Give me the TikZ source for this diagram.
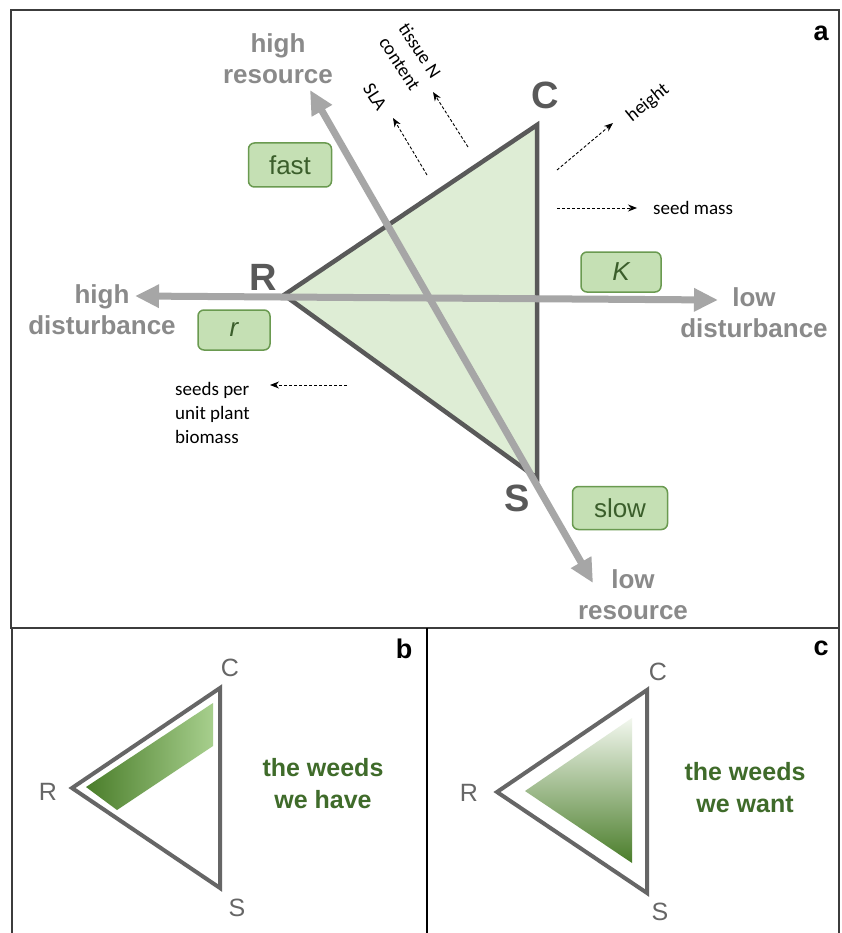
\documentclass[tikz,border=0pt]{standalone}
\usepackage{fontspec}
\setmainfont{Liberation Sans}
\newfontfamily\calib{Carlito}
\usetikzlibrary{arrows.meta}
\definecolor{framegray}{HTML}{3C3C3C}
\definecolor{trigray}{HTML}{595959}
\definecolor{trifill}{HTML}{DEEDD5}
\definecolor{axisgray}{HTML}{A6A6A6}
\definecolor{labgray}{HTML}{8A8A8A}
\definecolor{boxfill}{HTML}{C5E0B4}
\definecolor{boxline}{HTML}{6A9A50}
\definecolor{boxtext}{HTML}{3B5E2B}
\definecolor{weedgreen}{HTML}{3F6B2A}
\definecolor{smallgray}{HTML}{666666}
\definecolor{darkg}{HTML}{4A7D2A}
\definecolor{midg}{HTML}{A7CF8D}
\definecolor{lightg}{HTML}{F2F7EE}
\begin{document}
\begin{tikzpicture}[x=1pt,y=-1pt,
  axislab/.style={font=\fontsize{26}{31}\selectfont\bfseries, text=labgray, align=center, inner sep=0pt},
  vlab/.style={font=\fontsize{38}{40}\selectfont\bfseries, text=trigray, inner sep=0pt},
  slab/.style={font=\fontsize{25}{28}\selectfont, text=smallgray, inner sep=0pt},
  panlab/.style={font=\fontsize{27}{30}\selectfont\bfseries, text=black, inner sep=0pt},
  greenbox/.style={rounded corners=6pt, fill=boxfill, draw=boxline, line width=1.5pt, text=boxtext, font=\fontsize{26}{28}\selectfont, inner sep=0pt},
  trait/.style={font=\calib\fontsize{19}{24}\selectfont, text=black, inner sep=0pt},
  traitarrow/.style={densely dashed, line width=0.9pt, -{Stealth[length=9pt,width=7pt]}},
  grayaxis/.style={line width=7pt, draw=axisgray, {Triangle[length=24pt,width=22pt]}-{Triangle[length=24pt,width=22pt]}},
  weedtext/.style={font=\fontsize{25}{32}\selectfont\bfseries, text=weedgreen, align=center, inner sep=0pt},
  smalltri/.style={line width=4pt, draw=smallgray},
  frame/.style={line width=2.5pt, draw=framegray}
]
\useasboundingbox (0,0) rectangle (842,933);
\fill[white] (0,0) rectangle (842,933);

% frames
\draw[frame] (11,10) rectangle (839,628);
\draw[line width=1.8pt, draw=framegray] (12,628) -- (12,933);
\draw[line width=1.8pt, draw=framegray] (839,628) -- (839,933);
\draw[line width=1.5pt, draw=black] (427,628) -- (427,933);

% ---------- panel a ----------
\coordinate (R) at (284,295);
\coordinate (C) at (537,125);
\coordinate (S) at (537,478);
\draw[line width=4.5pt, draw=trigray, fill=trifill] (R) -- (C) -- (S) -- cycle;

\coordinate (hd) at (135,296);
\coordinate (ld) at (718,300);
\coordinate (hr) at (310,90);
\coordinate (lr) at (593,583);
\draw[grayaxis] (hd) -- (ld);
\draw[grayaxis] (hr) -- (lr);

\node[axislab] (hrlab) at (278,59) {high\\resource};
\node[axislab] (hdlab) at (102,310) {high\\disturbance};
\node[axislab] (ldlab) at (754,313) {low\\disturbance};
\node[axislab] (lrlab) at (633,595) {low\\resource};

\node[vlab] (Rl) at (263,277) {R};
\node[vlab] (Cl) at (545,95) {C};
\node[vlab] (Sl) at (517,498) {S};

\node[greenbox, minimum width=83pt, minimum height=44pt] (fast) at (290,165) {fast};
\node[greenbox, minimum width=80pt, minimum height=40pt] (Kbox) at (621,272) {\itshape K};
\node[greenbox, minimum width=72pt, minimum height=40pt] (rbox) at (234,330) {\itshape r};
\node[greenbox, minimum width=95pt, minimum height=43pt] (slow) at (620,508) {slow};

% traits
\node[trait, rotate=-57] (sla) at (375,97) {SLA};
\node[trait, rotate=-57, align=center] (tissue) at (410,57) {tissue N\\content};
\node[trait, rotate=39] (height) at (648,103) {height};
\node[trait, anchor=west] (seedmass) at (653,208) {seed mass};
\node[trait, anchor=west, align=left] (seeds) at (175,413) {seeds per\\unit plant\\biomass};

\coordinate (sla0) at (427,175);  \coordinate (sla1) at (393,118);
\coordinate (tis0) at (468,147);  \coordinate (tis1) at (433,92);
\coordinate (hei0) at (557,170);  \coordinate (hei1) at (613,123);
\coordinate (sm0) at (557,208);   \coordinate (sm1) at (637,208);
\coordinate (spb0) at (347,385);  \coordinate (spb1) at (270,385);
\draw[traitarrow] (sla0) -- (sla1);
\draw[traitarrow] (tis0) -- (tis1);
\draw[traitarrow] (hei0) -- (hei1);
\draw[traitarrow] (sm0) -- (sm1);
\draw[traitarrow] (spb0) -- (spb1);

\node[panlab] (pa) at (821,33) {a};

% ---------- panel b ----------
\coordinate (bR) at (72,788);
\coordinate (bC) at (220,688);
\coordinate (bS) at (220,888);
\shade[left color=darkg, right color=midg] (86,787) -- (213,703) -- (213,746) -- (117,810) -- cycle;
\draw[smalltri] (bR) -- (bC) -- (bS) -- cycle;
\node[slab] (bRl) at (48,792) {R};
\node[slab] (bCl) at (230,668) {C};
\node[slab] (bSl) at (237,908) {S};
\node[weedtext] (have) at (323,784) {the weeds\\we have};
\node[panlab] (pb) at (404,649) {b};

% ---------- panel c ----------
\coordinate (cR) at (497,792);
\coordinate (cC) at (647,690);
\coordinate (cS) at (647,893);
\shade[top color=lightg, middle color=midg, bottom color=darkg] (525,791) -- (632,718) -- (632,863) -- cycle;
\draw[smalltri] (cR) -- (cC) -- (cS) -- cycle;
\node[slab] (cRl) at (469,793) {R};
\node[slab] (cCl) at (658,672) {C};
\node[slab] (cSl) at (660,912) {S};
\node[weedtext] (want) at (745,788) {the weeds\\we want};
\node[panlab] (pc) at (821,648) {c};
\end{tikzpicture}
\end{document}
